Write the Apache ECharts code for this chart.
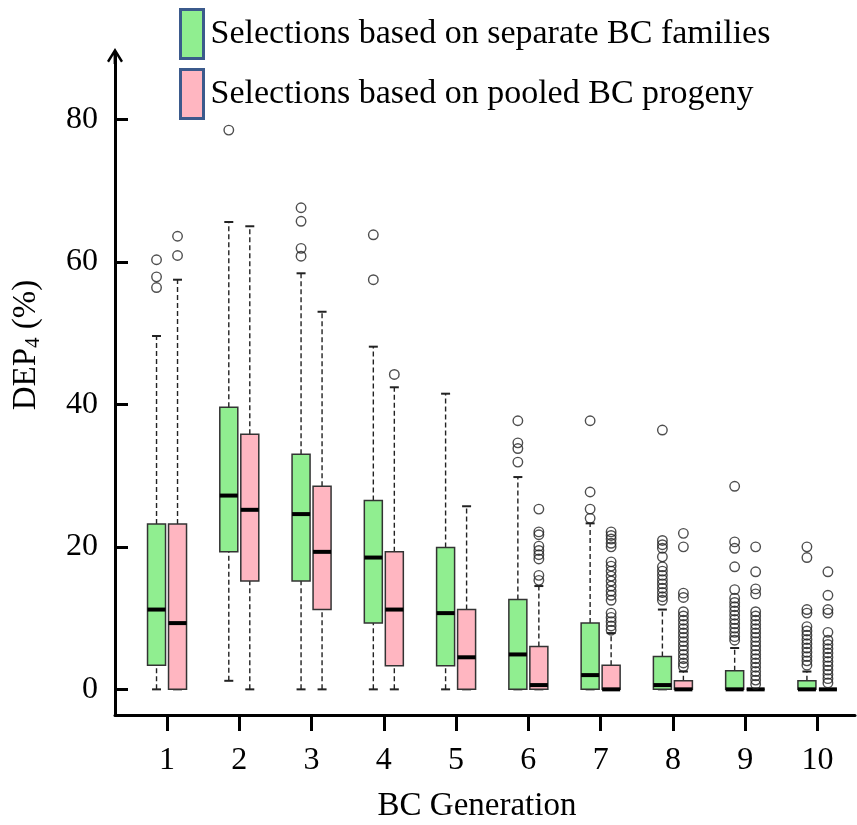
<!DOCTYPE html>
<html>
<head>
<meta charset="utf-8">
<script src="https://cdn.jsdelivr.net/npm/echarts@6/dist/echarts.min.js"></script>
<style>
  html, body { margin: 0; padding: 0; background: #fff; }
  #main { width: 857px; height: 825px; }
</style>
</head>
<body>
<div id="main"></div>
<script>
var generations = [1, 2, 3, 4, 5, 6, 7, 8, 9, 10];
var yTicks = [0, 20, 40, 60, 80];

// [low whisker, Q1, median, Q3, high whisker]
var separateBoxes = [
  [0, 3.4, 11.2, 23.2, 49.6],
  [1.2, 19.3, 27.2, 39.6, 65.6],
  [0, 15.2, 24.6, 33.0, 58.4],
  [0, 9.3, 18.5, 26.5, 48.1],
  [0, 3.3, 10.7, 19.9, 41.5],
  [0, 0, 4.9, 12.6, 29.8],
  [0, 0, 2.0, 9.3, 23.3],
  [0, 0, 0.6, 4.6, 11.2],
  [0, 0, 0, 2.6, 5.8],
  [0, 0, 0, 1.2, 2.5]
];
var pooledBoxes = [
  [0, 0, 9.3, 23.2, 57.5],
  [0, 15.2, 25.2, 35.8, 65.0],
  [0, 11.2, 19.3, 28.5, 53.0],
  [0, 3.3, 11.2, 19.3, 42.4],
  [0, 0, 4.5, 11.2, 25.7],
  [0, 0, 0.6, 6.0, 14.5],
  [0, 0, 0, 3.4, 7.9],
  [0, 0, 0, 1.2, 2.5],
  [0, 0, 0, 0, 0],
  [0, 0, 0, 0, 0]
];

var separateOutliers = [
  [60.3, 57.9, 56.4],
  [78.5],
  [67.6, 65.7, 61.9, 60.8],
  [63.8, 57.5],
  [],
  [37.7, 34.6, 33.8, 31.9],
  [37.7, 27.7, 25.3, 24.0],
  [36.4, 20.9, 20.3, 19.8, 18.6, 17.2, 16.6, 16.0, 15.4, 14.8, 14.2, 13.6, 13.0, 12.5],
  [28.5, 20.7, 19.8, 17.2, 14.0, 12.8, 12.2, 11.6, 11.0, 10.4, 9.8, 9.2, 8.6, 8.0, 7.4, 6.9],
  [20.0, 18.5, 11.2, 10.7, 8.8, 8.2, 7.6, 7.0, 6.4, 5.8, 5.2, 4.6, 4.0, 3.4]
];
var pooledOutliers = [
  [63.6, 60.9],
  [],
  [],
  [44.2],
  [],
  [25.3, 22.1, 21.7, 20.1, 19.5, 18.9, 18.3, 16.0, 15.3],
  [22.1, 21.6, 21.1, 20.5, 20.0, 17.9, 17.3, 16.6, 15.9, 15.2, 14.5, 13.8, 13.2, 12.5, 10.7, 10.1, 9.5, 8.9, 8.3],
  [21.9, 20.0, 13.5, 12.9, 10.9, 10.3, 9.7, 9.1, 8.5, 7.9, 7.3, 6.7, 6.1, 5.5, 4.9, 4.3, 3.7, 3.2],
  [20.0, 16.5, 14.1, 13.4, 10.9, 10.3, 9.7, 9.1, 8.5, 7.9, 7.3, 6.7, 6.1, 5.5, 4.9, 4.3, 3.7, 3.1, 2.5, 1.9, 1.3, 0.7],
  [16.5, 13.2, 11.2, 10.7, 8.0, 6.9, 6.3, 5.7, 5.1, 4.5, 3.9, 3.3, 2.7, 2.1, 1.5, 0.9]
];

var names = ['Selections based on separate BC families', 'Selections based on pooled BC progeny'];
var fills = ['#90ee90', '#ffb6c1'];
var serif = 'Liberation Serif, Times New Roman, serif';

function boxRows(boxes) {
  return boxes.map(function (b, i) { return [generations[i]].concat(b); });
}
function outlierRows(groups) {
  var rows = [];
  groups.forEach(function (vals, i) {
    vals.forEach(function (v) { rows.push([generations[i], v]); });
  });
  return rows;
}

function makeBoxRender(offset, fill) {
  return function (params, api) {
    var g = api.value(0);
    var px = api.coord([g, 0])[0] + offset;
    var yLow = api.coord([g, api.value(1)])[1];
    var yQ1 = api.coord([g, api.value(2)])[1];
    var yMed = api.coord([g, api.value(3)])[1];
    var yQ3 = api.coord([g, api.value(4)])[1];
    var yHigh = api.coord([g, api.value(5)])[1];
    var hw = 9, cw = 4.5;
    var dash = { stroke: '#222', lineWidth: 1.4, lineDash: [5, 3] };
    var solid = { stroke: '#222', lineWidth: 2 };
    return {
      type: 'group',
      children: [
        { type: 'line', shape: { x1: px, y1: yLow, x2: px, y2: yQ1 }, style: dash },
        { type: 'line', shape: { x1: px, y1: yQ3, x2: px, y2: yHigh }, style: dash },
        { type: 'line', shape: { x1: px - cw, y1: yLow, x2: px + cw, y2: yLow }, style: solid },
        { type: 'line', shape: { x1: px - cw, y1: yHigh, x2: px + cw, y2: yHigh }, style: solid },
        { type: 'rect', shape: { x: px - hw, y: yQ3, width: hw * 2, height: yQ1 - yQ3 },
          style: { fill: fill, stroke: '#333', lineWidth: 1.5 } },
        { type: 'line', shape: { x1: px - hw, y1: yMed, x2: px + hw, y2: yMed },
          style: { stroke: '#000', lineWidth: 4 } }
      ]
    };
  };
}

var chart = echarts.init(document.getElementById('main'));

var arrowPath = 'path://M8,0 L16,13 L14,14.5 L9.4,7 L9.4,16 L6.6,16 L6.6,7 L2,14.5 L0,13 Z';

var option = {
  animation: false,
  backgroundColor: '#fff',
  grid: { left: 115, right: 2, top: 56, bottom: 110 },
  legend: {
    orient: 'vertical',
    left: 179,
    top: 8,
    padding: 0,
    itemWidth: 23,
    itemHeight: 49,
    itemGap: 8,
    textStyle: { fontFamily: serif, fontSize: 34, color: '#000', padding: [0, 0, 0, 2] },
    data: [
      { name: names[0], icon: 'rect', itemStyle: { color: fills[0], borderColor: '#3b5a8c', borderWidth: 3 } },
      { name: names[1], icon: 'rect', itemStyle: { color: fills[1], borderColor: '#3b5a8c', borderWidth: 3 } }
    ]
  },
  xAxis: {
    type: 'value',
    min: 0.28,
    max: 10.52,
    splitLine: { show: false },
    axisLine: { show: true, onZero: false, lineStyle: { color: '#000', width: 3 } },
    axisTick: { show: true, length: 16, lineStyle: { color: '#000', width: 3 }, customValues: generations },
    axisLabel: { fontFamily: serif, fontSize: 32, color: '#000', margin: 30, customValues: generations }
  },
  yAxis: {
    type: 'value',
    min: -3.6,
    max: 88.9,
    splitLine: { show: false },
    axisLine: {
      show: true,
      onZero: false,
      lineStyle: { color: '#000', width: 3 },
      symbol: ['none', arrowPath],
      symbolSize: [16, 16]
    },
    axisTick: { show: true, inside: true, length: 13, lineStyle: { color: '#000', width: 3 }, customValues: yTicks },
    axisLabel: { fontFamily: serif, fontSize: 32, color: '#000', margin: 17, customValues: yTicks }
  },
  graphic: [
    {
      type: 'text',
      x: 477, y: 806,
      style: { text: 'BC Generation', fontFamily: serif, fontSize: 33, fill: '#000', align: 'center', verticalAlign: 'middle' }
    },
    {
      type: 'text',
      x: 26, y: 345,
      rotation: Math.PI / 2,
      style: {
        text: '{a|DEP}{b|4}{a| (%)}',
        align: 'center',
        verticalAlign: 'middle',
        rich: {
          a: { fontFamily: serif, fontSize: 33, fill: '#000', lineHeight: 36 },
          b: { fontFamily: serif, fontSize: 21, fill: '#000', verticalAlign: 'bottom', lineHeight: 36, padding: [12, 0, 0, 0] }
        }
      }
    }
  ],
  series: [
    {
      name: names[0],
      type: 'custom',
      itemStyle: { color: fills[0] },
      renderItem: makeBoxRender(-10.5, fills[0]),
      encode: { x: 0, y: [1, 2, 3, 4, 5] },
      data: boxRows(separateBoxes),
      z: 3
    },
    {
      name: names[1],
      type: 'custom',
      itemStyle: { color: fills[1] },
      renderItem: makeBoxRender(10.5, fills[1]),
      encode: { x: 0, y: [1, 2, 3, 4, 5] },
      data: boxRows(pooledBoxes),
      z: 3
    },
    {
      name: names[0],
      type: 'scatter',
      symbol: 'circle',
      symbolSize: 9.5,
      symbolOffset: [-10.5, 0],
      itemStyle: { color: 'rgba(0,0,0,0)', borderColor: '#222', borderWidth: 1.4 },
      data: outlierRows(separateOutliers),
      z: 4
    },
    {
      name: names[1],
      type: 'scatter',
      symbol: 'circle',
      symbolSize: 9.5,
      symbolOffset: [10.5, 0],
      itemStyle: { color: 'rgba(0,0,0,0)', borderColor: '#222', borderWidth: 1.4 },
      data: outlierRows(pooledOutliers),
      z: 4
    }
  ]
};

chart.setOption(option);
</script>
</body>
</html>
